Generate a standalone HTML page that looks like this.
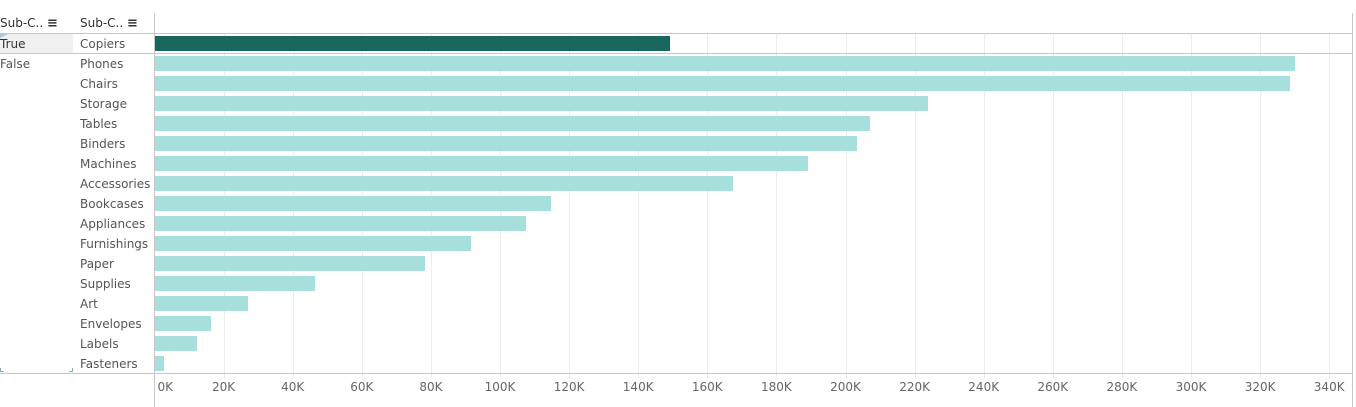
<!DOCTYPE html>
<html><head><style>
body{margin:0;width:1356px;height:407px;background:#fff;position:relative;overflow:hidden;font-family:"DejaVu Sans","Liberation Sans",sans-serif;font-size:12px;color:#555}
div{position:absolute}
.l{left:80px;height:20px;line-height:22px}
.b{left:155px;height:15px;background:#a7dfdd}
.g{top:33px;height:345px;width:1px;background:#ececec}
.t{top:380px;width:60px;margin-left:-30px;text-align:center;color:#666}
</style></head><body>
<div style="left:0;top:33px;width:73px;height:20px;background:#f0f0f0"></div>
<div style="left:0;top:33px;width:0;height:0;border-left:10px solid #a8c8d8;border-bottom:5px solid transparent"></div>
<div style="left:0;top:13px;height:20px;line-height:20px;color:#333">Sub-C.. <span style="font-size:13px;font-weight:bold">&#8801;</span></div>
<div style="left:80px;top:13px;height:20px;line-height:20px;color:#333">Sub-C.. <span style="font-size:13px;font-weight:bold">&#8801;</span></div>
<div style="left:0;top:33px;height:20px;line-height:22px;color:#333">True</div>
<div style="left:0;top:53px;height:20px;line-height:22px">False</div>
<div id="grid"></div>
<div style="left:0;top:33px;width:1353px;height:1px;background:#c8c8c8"></div>
<div style="left:0;top:53px;width:1353px;height:1px;background:#c8c8c8"></div>
<div style="left:0;top:373px;width:1353px;height:1px;background:#c8c8c8"></div>
<div style="left:154px;top:13px;width:1px;height:394px;background:#c8c8c8"></div>
<div style="left:1352px;top:13px;width:1px;height:394px;background:#c8c8c8"></div>
<div style="left:0;top:368px;width:3px;height:3px;border-left:1px solid #8ab;border-bottom:1px solid #8ab"></div>
<div style="left:69px;top:368px;width:3px;height:3px;border-right:1px solid #8ab;border-bottom:1px solid #8ab"></div>
<div class="l" style="top:33px">Copiers</div>
<div class="b" style="top:36px;width:515px;background:#17675f"></div>
<script>
var d=[["Phones",1295],["Chairs",1290],["Storage",928],["Tables",870],["Binders",857],["Machines",808],["Accessories",733],["Bookcases",551],["Appliances",526],["Furnishings",471],["Paper",425],["Supplies",315],["Art",248],["Envelopes",211],["Labels",197],["Fasteners",164]];
var h="";
for(var k=1;k<=17;k++){var x=Math.round(154.5+69.1*k);h+='<div class="g" style="left:'+x+'px"></div>';}
document.getElementById("grid").outerHTML=h;
var s="";
d.forEach(function(r,i){var y=53+20*i;s+='<div class="l" style="top:'+y+'px">'+r[0]+'</div><div class="b" style="top:'+(y+3)+'px;width:'+(r[1]-155)+'px"></div>';});
for(var k=0;k<=17;k++){var x=154.5+69.1*k;if(k==0)s+='<div class="t" style="left:'+(x+33)+'px;text-align:left;margin-left:-30px">0K</div>';else s+='<div class="t" style="left:'+x+'px">'+(20*k)+'K</div>';}
document.body.insertAdjacentHTML("beforeend",s);
</script>
</body></html>
